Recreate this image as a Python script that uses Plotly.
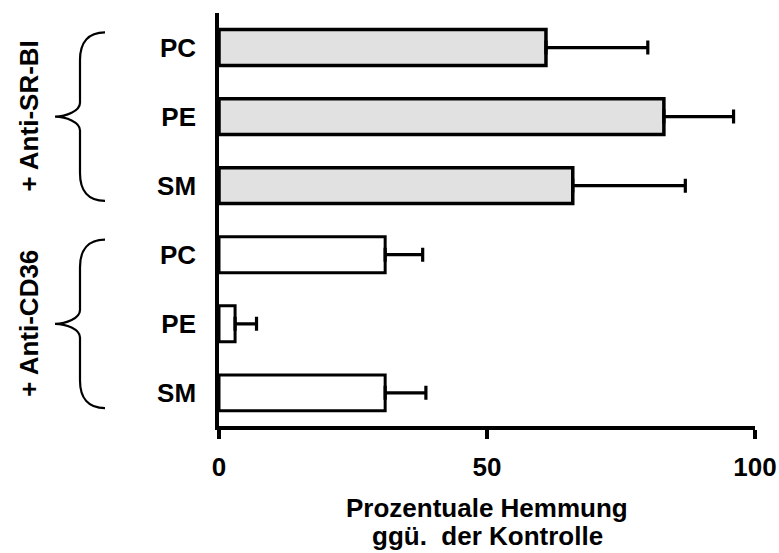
import plotly.graph_objects as go

# Inhibition (% of control) per lipid class, grouped by blocking antibody
groups = ["+ Anti-SR-BI", "+ Anti-CD36"]
lipids = ["PC", "PE", "SM"]
srbi_values = [61, 83, 66]
srbi_errors = [19, 13, 21]
cd36_values = [31, 3, 31]
cd36_errors = [7, 4, 7.6]
x_ticks = [0, 50, 100]
x_title = ["Prozentuale Hemmung", "ggü.  der Kontrolle"]

FONT = "Liberation Sans, Arial, sans-serif"
FS = 26
W, H = 779, 553
ML, MR, MT, MB = 219, 24, 13, 127
plot_w = W - ML - MR
plot_h = H - MT - MB

srbi_pos = [0, 1, 2]
cd36_pos = [3, 4, 5]

fig = go.Figure()


def add_group(values, errors, positions, fill, lw):
    fig.add_trace(go.Bar(
        x=values, y=positions, orientation="h", width=0.52,
        marker=dict(color=fill, line=dict(color="black", width=lw)),
        error_x=dict(type="data", array=errors, arrayminus=[0] * len(errors),
                     symmetric=False, color="black", thickness=3.2, width=7),
        cliponaxis=False, showlegend=False, hoverinfo="x+y",
    ))


add_group(srbi_values, srbi_errors, srbi_pos, "#e1e1e1", 3.5)
add_group(cd36_values, cd36_errors, cd36_pos, "white", 3)


def px_x(px):
    # horizontal pixel position -> paper fraction
    return (px - ML) / plot_w


def px_y(py):
    # vertical pixel position -> paper fraction
    return (H - MB - py) / plot_h


def brace_path(center, half=1.22):
    top, bot = center - half, center + half
    xe, xv, xp = px_x(105), px_x(80), px_x(55)
    xh = px_x(88)
    xm = px_x(66)
    return (f"M {xe},{top} C {xh},{top} {xv},{top + 0.15} {xv},{top + 0.4} "
            f"L {xv},{center - 0.2} C {xv},{center - 0.08} {xm},{center} {xp},{center} "
            f"C {xm},{center} {xv},{center + 0.08} {xv},{center + 0.2} "
            f"L {xv},{bot - 0.4} C {xv},{bot - 0.15} {xh},{bot} {xe},{bot}")


for name, pos in zip(groups, [srbi_pos, cd36_pos]):
    center = sum(pos) / len(pos)
    fig.add_shape(type="path", path=brace_path(center), xref="paper", yref="y",
                  line=dict(color="black", width=2.2), layer="above")
    fig.add_annotation(text=name, textangle=-90, xref="paper", yref="y",
                       x=px_x(29), y=center, xanchor="center", yanchor="middle",
                       showarrow=False,
                       font=dict(family=FONT, size=FS, color="black", weight="bold"))

# two-line axis title, one annotation per line
for line, py in zip(x_title, [508, 536]):
    fig.add_annotation(text=line, xref="paper", yref="paper", x=0.5, y=px_y(py),
                       xanchor="center", yanchor="middle", showarrow=False,
                       font=dict(family=FONT, size=FS, color="black", weight="bold"))

fig.update_layout(
    width=W, height=H,
    margin=dict(l=ML, r=MR, t=MT, b=MB, pad=0),
    paper_bgcolor="white", plot_bgcolor="white",
    barmode="overlay",
    xaxis=dict(range=[0, 100], tickvals=x_ticks, ticks="outside", ticklen=9,
               tickwidth=3.5, tickcolor="black", showline=True, linewidth=3.5,
               linecolor="black", showgrid=False, zeroline=False,
               ticklabelstandoff=6, automargin=False,
               tickfont=dict(family=FONT, size=FS, color="black", weight="bold")),
    yaxis=dict(range=[5.48, -0.5], tickvals=srbi_pos + cd36_pos,
               ticktext=lipids + lipids, ticks="", showline=True, linewidth=3.5,
               linecolor="black", showgrid=False, zeroline=False,
               ticklabelstandoff=14, automargin=False,
               tickfont=dict(family=FONT, size=FS, color="black", weight="bold")),
)

fig.write_html("out.html")
